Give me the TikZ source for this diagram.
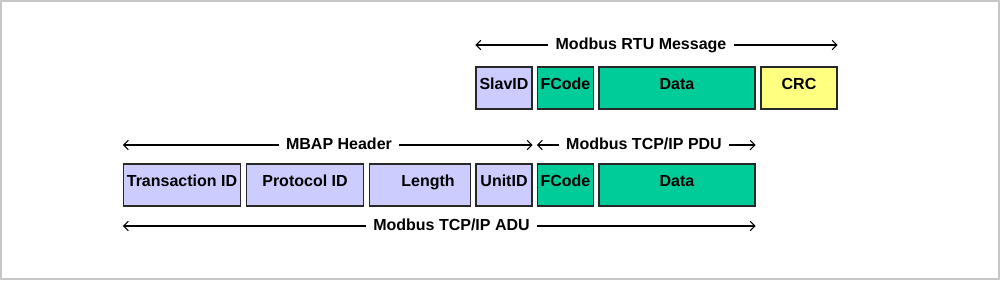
\documentclass[tikz,border=0pt]{standalone}
\usepackage{xcolor}
\usepackage{fontspec}
\setmainfont{Liberation Sans}
\usepackage{tikz}
\usetikzlibrary{arrows.meta}
\definecolor{idblue}{RGB}{204,204,255}
\definecolor{pdugreen}{RGB}{0,204,153}
\definecolor{crcyellow}{RGB}{255,255,128}
\definecolor{framegray}{RGB}{200,200,200}
\definecolor{edgegray}{RGB}{40,40,40}
\newlength{\px}\setlength{\px}{0.75pt}

\begin{document}
\begin{tikzpicture}[x=\px, y=-\px,
    field/.style={draw=edgegray, line width=1.2\px, minimum height=42\px, inner sep=0pt,
      font=\fontsize{12}{14}\selectfont\bfseries, text height=9pt, text depth=7pt},
    span/.style={font=\fontsize{12}{14}\selectfont\bfseries, inner sep=7\px,
      text height=10pt, text depth=3pt},
    dim/.style={line width=1.1\px, -{Straight Barb[length=3.5pt,width=7pt]}}]
      \useasboundingbox (0,0) rectangle (1000,280);
      \draw[framegray, line width=2\px] (1,1) rectangle (999,279);

      % RTU frame
      \node[field, fill=idblue, minimum width=56\px] (slav) at (504,88) {SlavID};
      \node[field, fill=pdugreen, minimum width=56\px] (rfcode) at (565.5,88) {FCode};
      \node[field, fill=pdugreen, minimum width=156\px] (rdata) at (677,88) {Data};
      \node[field, fill=crcyellow, minimum width=76\px] (crc) at (799,88) {CRC};

      % TCP/IP frame
      \node[field, fill=idblue, minimum width=117\px] (tid) at (182,185) {Transaction ID};
      \node[field, fill=idblue, minimum width=117\px] (pid) at (305,185) {Protocol ID};
      \node[field, fill=idblue, minimum width=101\px] (len) at (420,185) {\hspace*{12pt}Length};
      \node[field, fill=idblue, minimum width=56\px] (uid) at (504,185) {UnitID};
      \node[field, fill=pdugreen, minimum width=56\px] (tfcode) at (565.5,185) {FCode};
      \node[field, fill=pdugreen, minimum width=156\px] (tdata) at (677,185) {Data};

      % spans
      \node[span] (rtu) at (641,45) {Modbus RTU Message};
      \draw[dim] (rtu.west) -- (slav.west |- rtu);
      \draw[dim] (rtu.east) -- (crc.east |- rtu);

      \node[span] (mbap) at (339,145) {MBAP Header};
      \draw[dim] (mbap.west) -- (tid.west |- mbap);
      \draw[dim] (mbap.east) -- (uid.east |- mbap);

      \node[span] (pdu) at (644,145) {Modbus TCP/IP PDU};
      \draw[dim] (pdu.west) -- (tfcode.west |- pdu);
      \draw[dim] (pdu.east) -- (tdata.east |- pdu);

      \node[span] (adu) at (451.5,226) {Modbus TCP/IP ADU};
      \draw[dim] (adu.west) -- (tid.west |- adu);
      \draw[dim] (adu.east) -- (tdata.east |- adu);
    \end{tikzpicture}
\end{document}
